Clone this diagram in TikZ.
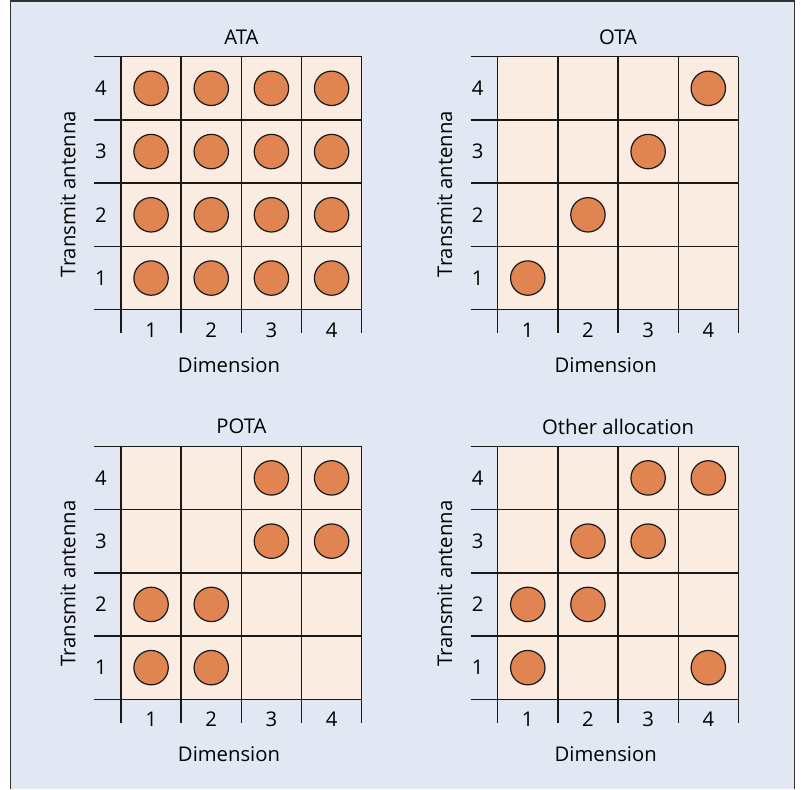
\documentclass[tikz,border=0pt]{standalone}
\usepackage{fontspec}
\setmainfont{Open Sans}
\definecolor{bgc}{RGB}{226,232,243}
\definecolor{cellc}{RGB}{251,236,226}
\definecolor{dotc}{RGB}{224,132,82}
\definecolor{linec}{RGB}{25,25,25}
\definecolor{framec}{RGB}{50,50,50}
\tikzset{
  lbl/.style={inner sep=0pt, font=\fontsize{15.2}{17}\selectfont, text=black},
  dot/.style={circle, draw=linec, line width=0.9pt, fill=dotc, minimum size=25.8pt, inner sep=0pt},
  gridline/.style={draw=linec, line width=1.1pt},
}
\newcommand\mypanel[5]{%
\begin{scope}[shift={(#1,#2)}]
  \fill[cellc] (121,56.7) rectangle (361.7,309.7);
  \foreach \i in {0,...,4} {
    \draw[gridline] (94,56.7+63.25*\i) -- (361.7,56.7+63.25*\i);
    \draw[gridline] (121+60.175*\i,56.7) -- (121+60.175*\i,333);
  }
  \foreach \r in {1,...,4} {
    \node[lbl] (#5-r\r) at (101,309.7-63.25*\r+31.6) {\r};
    \node[lbl] (#5-c\r) at (121+60.175*\r-30.1,330) {\r};
  }
  \foreach \c/\r in {#4} {
    \node[dot] (#5-d\c\r) at (121+60.175*\c-30.1,309.7-63.25*\r+31.6) {};
  }
  \node[lbl] (#5-title) at (241.4,37) {#3};
  \node[lbl] (#5-xlab) at (229,365) {Dimension};
  \node[lbl, rotate=90] (#5-ylab) at (68,194) {Transmit antenna};
\end{scope}}
\begin{document}
\begin{tikzpicture}[x=0.75pt,y=-0.75pt]
\useasboundingbox (0,0) rectangle (805,789);
\fill[white] (0,0) rectangle (805,789);
\fill[bgc] (10.5,1) rectangle (794.5,789);
\draw[framec, line width=1.1pt] (10.5,789) -- (10.5,1) -- (794.5,1) -- (794.5,789);
\mypanel{0}{0}{ATA}{1/1,2/1,3/1,4/1,1/2,2/2,3/2,4/2,1/3,2/3,3/3,4/3,1/4,2/4,3/4,4/4}{ata}
\mypanel{376.7}{0}{OTA}{1/1,2/2,3/3,4/4}{ota}
\mypanel{0}{389.6}{POTA}{1/1,2/1,1/2,2/2,3/3,4/3,3/4,4/4}{pota}
\mypanel{376.7}{389.6}{Other allocation}{1/1,4/1,1/2,2/2,2/3,3/3,3/4,4/4}{oth}
\end{tikzpicture}
\end{document}
